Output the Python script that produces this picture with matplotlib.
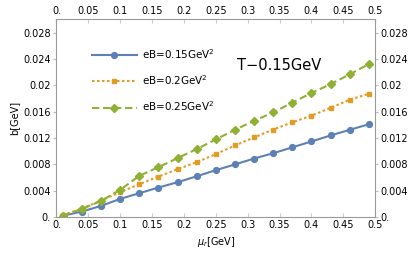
import matplotlib
matplotlib.use('Agg')
import matplotlib.pyplot as plt
import numpy as np

# chemical potential mu_r [GeV]
mu = [0.01, 0.04, 0.07, 0.10, 0.13, 0.16, 0.19, 0.22, 0.25,
      0.28, 0.31, 0.34, 0.37, 0.40, 0.43, 0.46, 0.49]
# b [GeV] for each eB
b_015 = [0.0002, 0.00085, 0.0017, 0.00277, 0.00363, 0.00449, 0.0053, 0.0062, 0.00713,
         0.0080, 0.0089, 0.0097, 0.0106, 0.01149, 0.0124, 0.01326, 0.0141]
b_02 = [0.0003, 0.0013, 0.0025, 0.0038, 0.0050, 0.00616, 0.00728, 0.00835, 0.00957,
        0.01088, 0.0121, 0.0133, 0.0144, 0.0154, 0.0166, 0.01783, 0.01874]
b_025 = [0.0002, 0.00125, 0.00246, 0.00414, 0.00627, 0.00759, 0.00896, 0.01033, 0.0118,
         0.01326, 0.01463, 0.0159, 0.0174, 0.01885, 0.0202, 0.02168, 0.02325]
labels = ['eB=0.15GeV$^2$', 'eB=0.2GeV$^2$', 'eB=0.25GeV$^2$']

xticks = [0, 0.05, 0.1, 0.15, 0.2, 0.25, 0.3, 0.35, 0.4, 0.45, 0.5]
xticklabels = ['0.', '0.05', '0.1', '0.15', '0.2', '0.25', '0.3', '0.35', '0.4', '0.45', '0.5']
yticks = [0, 0.004, 0.008, 0.012, 0.016, 0.02, 0.024, 0.028]
yticklabels = ['0.', '0.004', '0.008', '0.012', '0.016', '0.02', '0.024', '0.028']

plt.rcParams['font.family'] = 'DejaVu Sans'
fig = plt.figure(figsize=(4.15, 2.6), dpi=100)
ax = fig.add_axes([0.136, 0.165, 0.768, 0.762])

ax.plot(mu, b_015, '-', color='#5E81B5', lw=1.5, marker='o', ms=4.2, label=labels[0])
ax.plot(mu, b_02, color='#E19C24', lw=1.5, ls=(0, (1.2, 1.2)), marker='s', ms=3.3, label=labels[1])
ax.plot(mu, b_025, color='#8FB032', lw=1.5, ls=(0, (3.5, 1.8)), marker='D', ms=3.8, label=labels[2])

ax.set_xlim(0, 0.5)
ax.set_ylim(0, 0.0301)

gray = '#9a9a9a'
for s in ax.spines.values():
    s.set_color(gray)
    s.set_linewidth(0.8)

ax.set_xticks(xticks)
ax.set_xticklabels(xticklabels)
ax.set_yticks(yticks)
ax.set_yticklabels(yticklabels)
ax.tick_params(axis='x', direction='in', length=3, color='#cccccc', labelsize=7,
               top=True, labeltop=True, pad=2)
ax.tick_params(axis='y', direction='out', length=2.5, color='#bbbbbb', labelsize=7,
               right=True, labelright=True, pad=1.5)

ax.set_xlabel(r'$\mu_r$[GeV]', fontsize=7, labelpad=4)
ax.set_ylabel('b[GeV]', fontsize=7, labelpad=3)

ax.text(0.349, 0.0231, 'T\u22120.15GeV', fontsize=10.5, ha='center', va='center')

ax.legend(loc='upper left', bbox_to_anchor=(0.095, 0.885), frameon=False, fontsize=7.5,
          handlelength=4.3, labelspacing=1.2, handletextpad=0.5, borderpad=0, numpoints=1)

fig.savefig('out.png', dpi=100)
